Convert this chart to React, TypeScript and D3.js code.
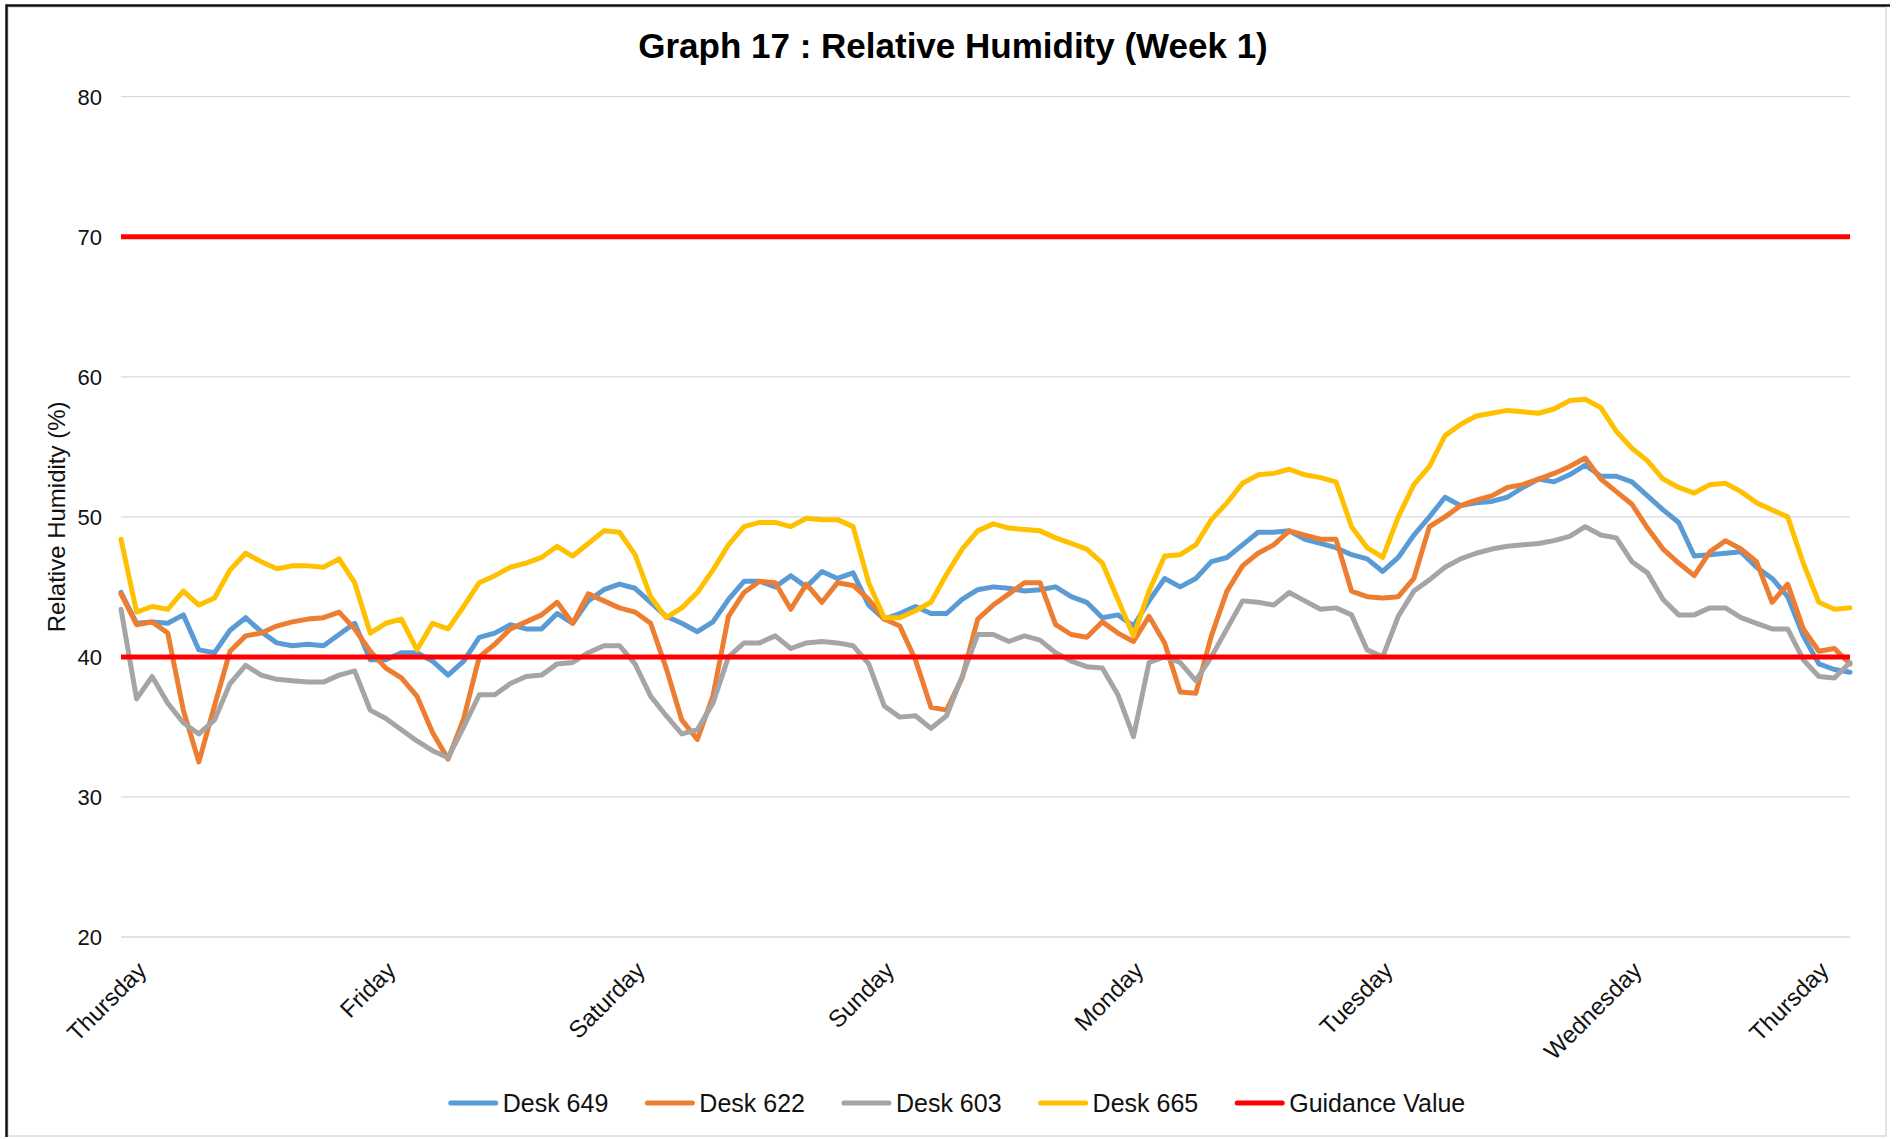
import React, { useEffect, useRef } from "react";
import * as d3 from "d3";

const W = 1896;
const H = 1139;

const chartTitle = "Graph 17 : Relative Humidity (Week 1)";
const yAxisTitle = "Relative Humidity (%)";

const dayLabels = ["Thursday", "Friday", "Saturday", "Sunday", "Monday", "Tuesday", "Wednesday", "Thursday"];
const dayLabelHours = [0, 24, 48, 72, 96, 120, 144, 162];
const yTicks = [20, 30, 40, 50, 60, 70, 80];
const guidanceValues = [40, 70];

// one reading every 1.5 hours
const sampleStepHours = 1.5;

const desk649 = [
  44.6, 42.4, 42.5, 42.4, 43.0, 40.5, 40.3, 41.9, 42.8, 41.8, 41.0, 40.8, 40.9, 40.8, 41.6, 42.4, 39.8, 39.8, 40.3, 40.3, 39.7, 38.7, 39.7,
  41.4, 41.7, 42.3, 42.0, 42.0, 43.1, 42.4, 44.0, 44.8, 45.2, 44.9, 43.9, 42.9, 42.4, 41.8, 42.5, 44.1, 45.4, 45.4, 45.0, 45.8, 45.0,
  46.1, 45.6, 46.0, 43.7, 42.7, 43.1, 43.6, 43.1, 43.1, 44.1, 44.8, 45.0, 44.9, 44.7, 44.8, 45.0, 44.3, 43.9, 42.8, 43.0, 42.2, 44.0,
  45.6, 45.0, 45.6, 46.8, 47.1, 48.0, 48.9, 48.9, 49.0, 48.4, 48.1, 47.8, 47.3, 47.0, 46.1, 47.1, 48.7, 50.0, 51.4, 50.8, 51.0, 51.1, 51.4,
  52.1, 52.7, 52.5, 53.0, 53.7, 52.9, 52.9, 52.5, 51.5, 50.5, 49.6, 47.2, 47.3, 47.4, 47.5, 46.4, 45.6, 44.3, 41.5, 39.5, 39.1, 38.9,
];

const desk622 = [
  44.5, 42.3, 42.5, 41.7, 36.2, 32.5, 36.5, 40.4, 41.5, 41.7, 42.2, 42.5, 42.7, 42.8, 43.2, 42.0, 40.4, 39.2, 38.5, 37.2, 34.6, 32.7, 35.6,
  40.0, 40.9, 42.0, 42.5, 43.0, 43.9, 42.4, 44.5, 44.0, 43.5, 43.2, 42.4, 39.2, 35.5, 34.1, 37.2, 42.9, 44.6, 45.4, 45.3, 43.4, 45.2,
  43.9, 45.3, 45.1, 44.1, 42.7, 42.2, 39.8, 36.4, 36.2, 38.5, 42.7, 43.7, 44.5, 45.3, 45.3, 42.3, 41.6, 41.4, 42.5, 41.7, 41.1, 42.9,
  41.0, 37.5, 37.4, 41.5, 44.7, 46.5, 47.4, 48.0, 49.0, 48.7, 48.4, 48.4, 44.7, 44.3, 44.2, 44.3, 45.6, 49.3, 50.0, 50.8, 51.2, 51.5, 52.1,
  52.3, 52.7, 53.1, 53.6, 54.2, 52.7, 51.8, 50.9, 49.2, 47.7, 46.7, 45.8, 47.5, 48.3, 47.7, 46.8, 43.9, 45.2, 42.0, 40.4, 40.6, 39.5,
];

const desk603 = [
  43.4, 37.0, 38.6, 36.7, 35.3, 34.5, 35.5, 38.1, 39.4, 38.7, 38.4, 38.3, 38.2, 38.2, 38.7, 39.0, 36.2, 35.6, 34.8, 34.0, 33.3, 32.8, 35.0,
  37.3, 37.3, 38.1, 38.6, 38.7, 39.5, 39.6, 40.3, 40.8, 40.8, 39.5, 37.2, 35.8, 34.5, 34.8, 36.7, 40.0, 41.0, 41.0, 41.5, 40.6, 41.0,
  41.1, 41.0, 40.8, 39.5, 36.5, 35.7, 35.8, 34.9, 35.8, 38.6, 41.6, 41.6, 41.1, 41.5, 41.2, 40.3, 39.7, 39.3, 39.2, 37.3, 34.3, 39.6,
  40.0, 39.6, 38.3, 40.0, 42.0, 44.0, 43.9, 43.7, 44.6, 44.0, 43.4, 43.5, 43.0, 40.5, 40.0, 42.9, 44.7, 45.5, 46.4, 47.0, 47.4, 47.7, 47.9,
  48.0, 48.1, 48.3, 48.6, 49.3, 48.7, 48.5, 46.8, 46.0, 44.1, 43.0, 43.0, 43.5, 43.5, 42.8, 42.4, 42.0, 42.0, 39.8, 38.6, 38.5, 39.6,
];

const desk665 = [
  48.4, 43.2, 43.6, 43.4, 44.7, 43.7, 44.2, 46.2, 47.4, 46.8, 46.3, 46.5, 46.5, 46.4, 47.0, 45.3, 41.7, 42.4, 42.7, 40.5, 42.4, 42.0, 43.6,
  45.3, 45.8, 46.4, 46.7, 47.1, 47.9, 47.2, 48.1, 49.0, 48.9, 47.3, 44.3, 42.8, 43.5, 44.6, 46.2, 48.0, 49.3, 49.6, 49.6, 49.3, 49.9,
  49.8, 49.8, 49.3, 45.3, 42.8, 42.8, 43.3, 43.9, 45.9, 47.7, 49.0, 49.5, 49.2, 49.1, 49.0, 48.5, 48.1, 47.7, 46.7, 44.1, 41.5, 44.7,
  47.2, 47.3, 48.0, 49.8, 51.0, 52.4, 53.0, 53.1, 53.4, 53.0, 52.8, 52.5, 49.3, 47.8, 47.1, 50.0, 52.3, 53.6, 55.8, 56.6, 57.2, 57.4, 57.6,
  57.5, 57.4, 57.7, 58.3, 58.4, 57.8, 56.1, 54.9, 54.0, 52.7, 52.1, 51.7, 52.3, 52.4, 51.8, 51.0, 50.5, 50.0, 46.7, 43.9, 43.4, 43.5,
];

const seriesNames = ["Desk 649", "Desk 622", "Desk 603", "Desk 665"];
const seriesColors = ["#5B9BD5", "#ED7D31", "#A5A5A5", "#FFC000"];
const guidanceName = "Guidance Value";
const guidanceColor = "#FF0000";

const FONT = "'Liberation Sans', Arial, Helvetica, sans-serif";

function drawChart(node: SVGSVGElement | null) {
  if (!node) return;
  const svg = d3.select(node);
  svg.selectAll("*").remove();

  const allSeries = [desk649, desk622, desk603, desk665];
  const plot = { left: 121, right: 1850, top: 96.7, bottom: 937 };
  const lastHour = (desk649.length - 1) * sampleStepHours;

  const x = d3.scaleLinear().domain([0, lastHour]).range([plot.left, plot.right]);
  const y = d3.scaleLinear().domain([20, 80]).range([plot.bottom, plot.top]);

  svg.append("rect").attr("width", W).attr("height", H).attr("fill", "#fff");

  // chart frame (dark top/left edge, light inner border)
  svg.append("rect")
    .attr("x", 8).attr("y", 7)
    .attr("width", 1878).attr("height", 1129)
    .attr("fill", "none")
    .attr("stroke", "#d9d9d9")
    .attr("stroke-width", 1.5);
  svg.append("path")
    .attr("d", "M6.5,1137V5.5H1890")
    .attr("fill", "none")
    .attr("stroke", "#111")
    .attr("stroke-width", 2.5);

  // title
  svg.append("text")
    .attr("x", 953).attr("y", 58)
    .attr("text-anchor", "middle")
    .style("font-family", FONT)
    .style("font-size", "35px")
    .style("font-weight", "bold")
    .attr("fill", "#000")
    .text(chartTitle);

  // gridlines + y labels
  const yAxis = svg.append("g");
  yAxis.selectAll("line.grid")
    .data(yTicks)
    .enter()
    .append("line")
    .classed("grid", true)
    .attr("x1", plot.left).attr("x2", plot.right)
    .attr("y1", d => y(d)).attr("y2", d => y(d))
    .attr("stroke", "#d9d9d9")
    .attr("stroke-width", 1.3);
  yAxis.selectAll("text.ytick")
    .data(yTicks)
    .enter()
    .append("text")
    .classed("ytick", true)
    .attr("x", 102)
    .attr("y", d => y(d))
    .attr("dy", "0.36em")
    .attr("text-anchor", "end")
    .style("font-family", FONT)
    .style("font-size", "22px")
    .attr("fill", "#111")
    .text(d => d);

  svg.append("text")
    .attr("transform", "translate(56," + (plot.top + plot.bottom) / 2 + ") rotate(-90)")
    .attr("dy", "0.36em")
    .attr("text-anchor", "middle")
    .style("font-family", FONT)
    .style("font-size", "24px")
    .attr("fill", "#111")
    .text(yAxisTitle);

  // day labels, rotated
  svg.selectAll("text.day")
    .data(dayLabels)
    .enter()
    .append("text")
    .classed("day", true)
    .attr("transform", (d, i) => "translate(" + (x(dayLabelHours[i]) + 27) + ",972) rotate(-45)")
    .attr("text-anchor", "end")
    .style("font-family", FONT)
    .style("font-size", "24px")
    .attr("fill", "#111")
    .text(d => d);

  // series
  const line = d3.line<number>()
    .x((d, i) => x(i * sampleStepHours))
    .y(d => y(d));

  svg.selectAll("path.series")
    .data(allSeries)
    .enter()
    .append("path")
    .classed("series", true)
    .attr("d", d => line(d))
    .attr("fill", "none")
    .attr("stroke", (d, i) => seriesColors[i])
    .attr("stroke-width", 5)
    .attr("stroke-linejoin", "round")
    .attr("stroke-linecap", "round");

  // guidance value lines
  svg.selectAll("line.guidance")
    .data(guidanceValues)
    .enter()
    .append("line")
    .classed("guidance", true)
    .attr("x1", x(0)).attr("x2", x(lastHour))
    .attr("y1", d => y(d)).attr("y2", d => y(d))
    .attr("stroke", guidanceColor)
    .attr("stroke-width", 5);

  // legend
  const legendItems = seriesNames.map((n, i) => ({ name: n, color: seriesColors[i] }))
    .concat([{ name: guidanceName, color: guidanceColor }]);
  const legend = svg.append("g");
  let cursor = 0;
  legendItems.forEach(item => {
    const g = legend.append("g").attr("transform", "translate(" + cursor + ",0)");
    g.append("line")
      .attr("x1", 2).attr("x2", 47)
      .attr("y1", 0).attr("y2", 0)
      .attr("stroke", item.color)
      .attr("stroke-width", 5)
      .attr("stroke-linecap", "round");
    const t = g.append("text")
      .attr("x", 54)
      .attr("dy", "0.36em")
      .style("font-family", FONT)
      .style("font-size", "25px")
      .attr("fill", "#111")
      .text(item.name);
    const len = (t.node() as SVGTextElement).getComputedTextLength();
    cursor += 54 + len + 37;
  });
  const legendWidth = cursor - 37;
  legend.attr("transform", "translate(" + (957 - legendWidth / 2) + ",1103)");
}

export default function App() {
  const svgRef = useRef<SVGSVGElement>(null);

  useEffect(() => {
    drawChart(svgRef.current);
  }, []);

  return (
    <svg
      ref={svgRef}
      width={W}
      height={H}
      style={{ position: "absolute", left: 0, top: 0, display: "block" }}
    />
  );
}
